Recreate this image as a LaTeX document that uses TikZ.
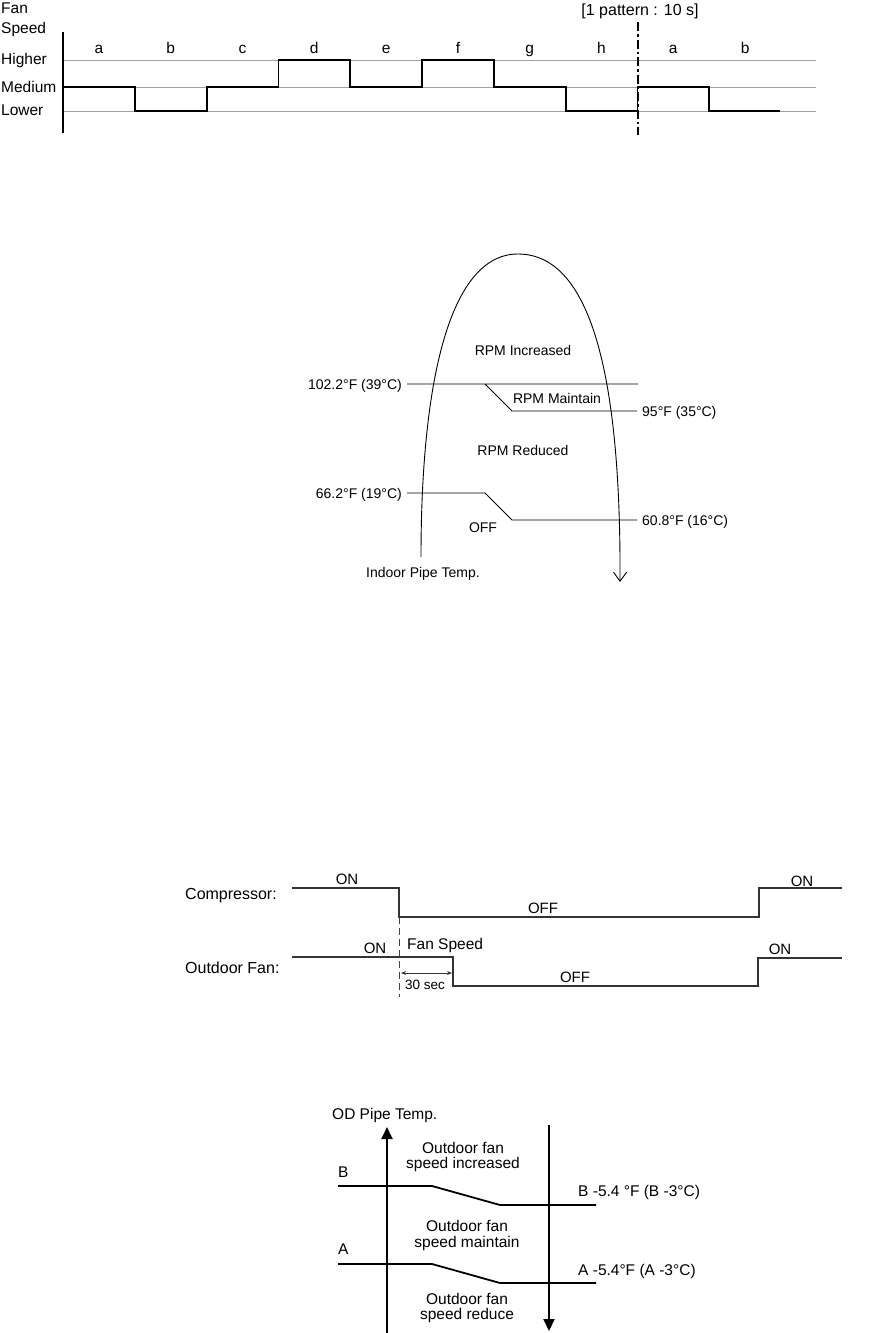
\documentclass[tikz,border=0pt]{standalone}
\usepackage{fontspec}
\setmainfont{Liberation Sans}
\usetikzlibrary{arrows.meta}

\begin{document}
\begin{tikzpicture}[x=1pt, y=-1pt, inner sep=0pt, font=\fontsize{15.5}{18}\selectfont, line join=miter,
		grid/.style={gray!75, line width=0.8pt},
		wave/.style={black, line width=1.8pt},
		thinline/.style={black, line width=0.9pt},
		small/.style={font=\fontsize{14}{16}\selectfont},
		sig/.style={black!80, line width=1.5pt},
		axis/.style={black, line width=2pt, -{Triangle[length=12pt,width=11pt]}},
		band/.style={black, line width=1.8pt}]
	\useasboundingbox (0,0) rectangle (868,1333);
	% fan speed pattern
	\node[anchor=base west] (fan) at (1,13.5) {Fan};
	\node[anchor=base west] (speed) at (1,33) {Speed};
	\foreach \lev/\y in {Higher/64, Medium/92, Lower/115}
		\node[anchor=base west] (\lev) at (1,\y) {\lev};
	\foreach \y in {60,87,111}
		\draw[grid] (63,\y) -- (816,\y);
	\draw[wave] (63,32) -- (63,133);
	\draw[wave] (63,87) -| (134.8,111) -| (206.6,87) -| (278.4,60) -| (350.2,87) -| (422,60)
		-| (493.8,87) -| (565.6,111) -| (637.4,87) -| (709.2,111) -- (780,111);
	\foreach \s [count=\i from 0] in {a,b,c,d,e,f,g,h,a,b}
		\node[anchor=base] (seg\i) at ({98.9+71.8*\i},53) {\s};
	\draw[black, line width=1.3pt, dash pattern=on 9pt off 3pt on 2.5pt off 3pt] (638,22) -- (638,135);
	\node[anchor=base, font=\fontsize{16}{18}\selectfont] (pattern) at (640,15) {[1 pattern : 10 s]};
	% indoor pipe temperature
	\draw[thinline, -{Straight Barb[length=9pt,width=13pt]}] (421,557) .. controls (421,380) and (450,254) .. (518,254)
		.. controls (595,254) and (621,390) .. (620,582);
	\path (407,384) coordinate (H1) (638,384) coordinate (H2)
		(485,384) coordinate (M1) (512,411) coordinate (M2) (637,411) coordinate (M3)
		(407,493) coordinate (L1) (485,493) coordinate (L2) (512,520) coordinate (L3) (637,520) coordinate (L4);
	\draw[thinline] (H1) -- (H2) (M1) -- (M2) -- (M3);
	\draw[thinline] (L1) -- (L2) -- (L3) -- (L4);
	\node[small, anchor=base] (rpminc) at (523,355) {RPM Increased};
	\node[small, anchor=base east] (t39) at (402,389) {102.2°F (39°C)};
	\node[small, anchor=base] (rpmmain) at (557,403) {RPM Maintain};
	\node[small, anchor=base west] (t35) at (642,416) {95°F (35°C)};
	\node[small, anchor=base] (rpmred) at (523,455) {RPM Reduced};
	\node[small, anchor=base east] (t19) at (402,498) {66.2°F (19°C)};
	\node[small, anchor=base west] (t16) at (642,525) {60.8°F (16°C)};
	\node[small, anchor=base] (off) at (483,532) {OFF};
	\node[small, anchor=base] (pipe) at (423,577) {Indoor Pipe Temp.};
	% compressor / outdoor fan timing
	\node[anchor=base west, font=\fontsize{16}{18}\selectfont] (comp) at (185,899) {Compressor:};
	\node[anchor=base west, font=\fontsize{16}{18}\selectfont] (odfan) at (185,973) {Outdoor Fan:};
	\draw[sig] (292,888) -- (399,888) -- (399,917) -- (759,917) -- (759,888) -- (842,888);
	\draw[sig] (292,957) -- (453,957) -- (453,986) -- (758,986) -- (758,958) -- (842,958);
	\draw[black!75, line width=1pt, dash pattern=on 7pt off 4pt] (399,917) -- (399,997);
	\draw[black!80, line width=0.8pt, {Stealth[length=5pt,width=4pt]}-{Stealth[length=5pt,width=4pt]}] (401,973) -- (452,973);
	\foreach \n/\t/\x/\y in {con1/ON/347/884, coff/OFF/543/913, con2/ON/802/886, fon1/ON/375/953, foff/OFF/575/982, fon2/ON/780/954}
		\node[anchor=base, font=\fontsize{15}{18}\selectfont] (\n) at (\x,\y) {\t};
	\node[anchor=base west, font=\fontsize{15.5}{18}\selectfont] (fspeed) at (407,949) {Fan Speed};
	\node[anchor=base west, font=\fontsize{13.5}{16}\selectfont] (sec) at (405,989) {30 sec};
	% outdoor pipe temperature
	\draw[axis] (387,1333) -- (387,1127);
	\draw[axis] (549,1125) -- (549,1331);
	\path (338,1186) coordinate (B1) (432,1186) coordinate (B2) (500,1205) coordinate (B3) (596,1205) coordinate (B4)
		(338,1264) coordinate (A1) (432,1264) coordinate (A2) (500,1283) coordinate (A3) (596,1283) coordinate (A4);
	\draw[band] (B1) -- (B2) -- (B3) -- (B4);
	\draw[band] (A1) -- (A2) -- (A3) -- (A4);
	\node[anchor=base west] (odpipe) at (332,1119) {OD Pipe Temp.};
	\node[anchor=base west] (lB) at (338,1177) {B};
	\node[anchor=base west] (lA) at (338,1254) {A};
	\node[anchor=base west] (tB) at (578,1196) {B -5.4 °F (B -3°C)};
	\node[anchor=base west] (tA) at (578,1275) {A -5.4°F (A -3°C)};
	\foreach \n/\t/\x/\y in {inc1/Outdoor fan/463/1153, inc2/speed increased/463/1168,
			main1/Outdoor fan/467/1231, main2/speed maintain/467/1247,
			red1/Outdoor fan/467/1304, red2/speed reduce/467/1319}
		\node[anchor=base] (\n) at (\x,\y) {\t};
\end{tikzpicture}
\end{document}
